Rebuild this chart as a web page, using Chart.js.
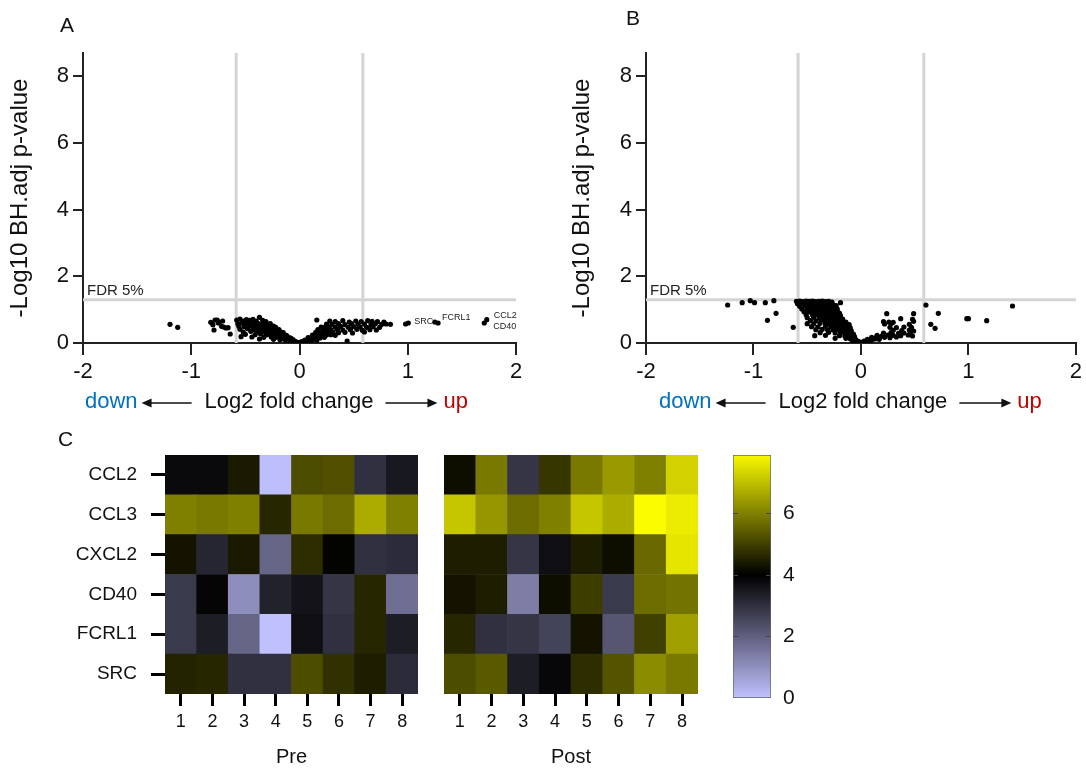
<!DOCTYPE html>
<html>
<head>
<meta charset="utf-8">
<script src="https://cdn.jsdelivr.net/npm/chart.js@4.4.1/dist/chart.umd.min.js"></script>
<style>
  body { margin: 0; background: #fff; width: 1086px; height: 768px; position: relative; overflow: hidden; font-family: 'Liberation Sans', Arial, sans-serif; }
  canvas { position: absolute; }
  .tag { position: absolute; font-size: 21px; line-height: 1; color: #111; z-index: 2; }
</style>
</head>
<body>
<div class="tag" style="left:60px;top:14px">A</div>
<div class="tag" style="left:626px;top:7px">B</div>
<div class="tag" style="left:58px;top:428px">C</div>

<canvas id="volA" style="left:0;top:0" width="545" height="425"></canvas>
<canvas id="volB" style="left:560px;top:0" width="526" height="425"></canvas>
<canvas id="heatPre" style="left:0;top:420px" width="430" height="348"></canvas>
<canvas id="heatPost" style="left:430px;top:420px" width="280" height="348"></canvas>
<canvas id="colorBar" style="left:715px;top:420px" width="105" height="348"></canvas>

<script>
// ---- data ----
// volcano A (Pre): [log2 fold change, -log10 BH adj p]
const volcanoA = [
  [-1.196,0.56],[-1.125,0.47],
  [-0.80,0.55],[-0.78,0.69],[-0.76,0.69],[-0.74,0.62],[-0.79,0.39],[-0.72,0.50],[-0.70,0.48],
  [-0.68,0.45],[-0.66,0.46],[-0.75,0.60],[-0.64,0.27],[-0.82,0.62],[-0.71,0.66],
  [-0.58,0.69],[-0.55,0.72],[-0.52,0.66],[-0.49,0.70],[-0.46,0.68],[-0.43,0.71],[-0.40,0.66],[-0.37,0.77],[-0.34,0.68],[-0.31,0.64],
  [-0.57,0.58],[-0.53,0.60],[-0.50,0.57],[-0.47,0.59],[-0.44,0.56],[-0.41,0.60],[-0.38,0.58],[-0.35,0.57],[-0.32,0.59],[-0.29,0.56],[-0.27,0.58],
  [-0.56,0.50],[-0.51,0.49],[-0.46,0.51],[-0.42,0.48],[-0.39,0.50],[-0.36,0.52],[-0.33,0.49],[-0.30,0.50],[-0.27,0.48],[-0.24,0.51],[-0.22,0.47],
  [-0.55,0.41],[-0.48,0.43],[-0.43,0.40],[-0.40,0.42],[-0.37,0.41],[-0.34,0.43],[-0.31,0.40],[-0.28,0.42],[-0.25,0.41],[-0.22,0.39],[-0.19,0.40],
  [-0.52,0.33],[-0.45,0.35],[-0.39,0.33],[-0.35,0.34],[-0.32,0.32],[-0.29,0.35],[-0.26,0.33],[-0.23,0.34],[-0.20,0.32],[-0.17,0.33],[-0.15,0.31],
  [-0.50,0.26],[-0.41,0.25],[-0.36,0.27],[-0.30,0.25],[-0.27,0.26],[-0.24,0.24],[-0.21,0.26],[-0.18,0.25],[-0.15,0.24],[-0.12,0.23],
  [-0.54,0.19],[-0.44,0.18],[-0.33,0.17],[-0.26,0.18],[-0.22,0.17],[-0.19,0.18],[-0.16,0.17],[-0.13,0.16],[-0.10,0.17],[-0.08,0.15],
  [-0.37,0.12],[-0.24,0.11],[-0.18,0.10],[-0.14,0.11],[-0.11,0.10],[-0.08,0.09],[-0.06,0.10],
  [-0.12,0.05],[-0.09,0.05],[-0.06,0.04],[-0.04,0.05],[-0.02,0.02],[-0.01,0.01],
  [0.16,0.69],[0.28,0.66],[0.33,0.64],[0.40,0.67],[0.46,0.63],[0.52,0.66],[0.57,0.64],[0.63,0.67],[0.67,0.65],[0.72,0.64],[0.78,0.63],
  [0.25,0.57],[0.30,0.56],[0.36,0.58],[0.42,0.55],[0.48,0.58],[0.54,0.56],[0.60,0.57],[0.66,0.55],[0.70,0.58],[0.76,0.56],[0.80,0.57],[0.84,0.56],
  [0.20,0.48],[0.24,0.49],[0.27,0.47],[0.33,0.48],[0.38,0.50],[0.45,0.47],[0.50,0.49],[0.56,0.48],[0.62,0.47],[0.68,0.49],[0.74,0.47],
  [0.17,0.40],[0.22,0.41],[0.26,0.39],[0.29,0.40],[0.35,0.41],[0.40,0.39],[0.47,0.40],[0.53,0.41],[0.58,0.38],[0.65,0.40],[0.71,0.39],
  [0.15,0.32],[0.19,0.33],[0.23,0.31],[0.27,0.32],[0.31,0.33],[0.36,0.31],[0.42,0.32],[0.49,0.30],[0.60,0.33],
  [0.12,0.24],[0.16,0.25],[0.20,0.23],[0.25,0.24],[0.29,0.25],[0.33,0.23],
  [0.08,0.16],[0.11,0.17],[0.15,0.16],[0.19,0.15],[0.23,0.17],
  [0.05,0.09],[0.08,0.10],[0.12,0.09],[0.16,0.08],
  [0.02,0.04],[0.04,0.03],[0.07,0.05],[0.10,0.04],[0.01,0.01],
  [0.44,0.06],[0.98,0.57],[1.25,0.63]
];
// labelled genes in panel A
const geneNamesA = ['SRC', 'FCRL1', 'CCL2', 'CD40'];
const geneFoldA = [1.005, 1.28, 1.73, 1.707];
const genePA = [0.60, 0.60, 0.70, 0.60];

// volcano B (Post)
const volcanoB = [
  [-1.24,1.14],[-1.105,1.21],[-1.03,1.27],[-0.99,1.21],[-0.89,1.21],[-0.81,1.27],[-0.87,0.68],[-0.79,0.89],[-0.63,0.47],
  [-0.60,1.25],[-0.57,1.26],[-0.54,1.24],[-0.51,1.26],[-0.48,1.25],[-0.45,1.26],[-0.42,1.24],[-0.39,1.25],[-0.36,1.26],[-0.33,1.24],[-0.30,1.25],[-0.27,1.23],
  [-0.59,1.18],[-0.56,1.19],[-0.53,1.17],[-0.50,1.18],[-0.47,1.19],[-0.44,1.17],[-0.41,1.18],[-0.38,1.19],[-0.35,1.17],[-0.32,1.18],[-0.29,1.16],[-0.26,1.15],[-0.23,1.12],
  [-0.57,1.10],[-0.52,1.11],[-0.48,1.09],[-0.45,1.10],[-0.42,1.11],[-0.39,1.09],[-0.36,1.10],[-0.33,1.08],[-0.30,1.09],[-0.27,1.07],[-0.24,1.05],[-0.22,1.02],
  [-0.55,1.02],[-0.50,1.01],[-0.46,1.03],[-0.43,1.00],[-0.40,1.02],[-0.37,1.01],[-0.34,1.02],[-0.31,1.00],[-0.28,1.01],[-0.25,0.99],[-0.19,1.21],
  [-0.53,0.94],[-0.48,0.93],[-0.44,0.95],[-0.40,0.93],[-0.37,0.94],[-0.34,0.92],[-0.31,0.94],[-0.28,0.93],[-0.25,0.92],[-0.22,0.94],[-0.20,0.90],
  [-0.51,0.85],[-0.45,0.84],[-0.41,0.86],[-0.37,0.85],[-0.34,0.84],[-0.31,0.86],[-0.28,0.85],[-0.25,0.84],[-0.22,0.85],[-0.19,0.82],
  [-0.50,0.76],[-0.44,0.77],[-0.39,0.75],[-0.35,0.76],[-0.32,0.77],[-0.29,0.75],[-0.26,0.76],[-0.23,0.74],[-0.20,0.76],[-0.17,0.72],
  [-0.47,0.67],[-0.42,0.66],[-0.37,0.68],[-0.33,0.67],[-0.29,0.66],[-0.26,0.68],[-0.23,0.67],[-0.20,0.66],[-0.17,0.65],[-0.14,0.63],
  [-0.50,0.58],[-0.44,0.57],[-0.38,0.59],[-0.33,0.58],[-0.29,0.57],[-0.25,0.59],[-0.22,0.58],[-0.19,0.57],[-0.16,0.58],[-0.13,0.56],[-0.11,0.55],
  [-0.46,0.49],[-0.40,0.48],[-0.33,0.50],[-0.28,0.49],[-0.24,0.48],[-0.21,0.50],[-0.18,0.49],[-0.15,0.48],[-0.12,0.47],[-0.10,0.46],
  [-0.42,0.40],[-0.36,0.41],[-0.31,0.39],[-0.26,0.40],[-0.22,0.41],[-0.18,0.39],[-0.15,0.40],[-0.12,0.38],[-0.09,0.37],
  [-0.38,0.31],[-0.30,0.32],[-0.24,0.30],[-0.19,0.31],[-0.15,0.30],[-0.12,0.31],[-0.09,0.29],[-0.07,0.27],
  [-0.43,0.22],[-0.33,0.23],[-0.20,0.22],[-0.15,0.21],[-0.11,0.22],[-0.08,0.20],[-0.06,0.19],
  [-0.24,0.14],[-0.14,0.14],[-0.10,0.13],[-0.07,0.12],[-0.05,0.11],
  [-0.08,0.07],[-0.05,0.06],[-0.03,0.06],[-0.02,0.04],[-0.01,0.02],
  [0.01,0.02],[0.03,0.03],
  [0.03,0.06],[0.06,0.06],[0.09,0.07],
  [0.06,0.11],[0.10,0.10],[0.13,0.12],[0.17,0.11],
  [0.10,0.17],[0.14,0.16],[0.18,0.18],[0.22,0.17],[0.27,0.16],[0.33,0.18],
  [0.15,0.23],[0.20,0.22],[0.25,0.24],[0.30,0.23],[0.37,0.22],[0.44,0.24],[0.48,0.21],
  [0.21,0.30],[0.28,0.31],[0.35,0.29],[0.40,0.30],[0.46,0.31],
  [0.30,0.38],[0.38,0.37],[0.45,0.39],[0.49,0.36],
  [0.27,0.47],[0.33,0.46],[0.40,0.48],[0.47,0.47],
  [0.22,0.57],[0.28,0.58],[0.30,0.62],[0.45,0.56],
  [0.21,0.64],[0.26,0.63],[0.49,0.65],
  [0.37,0.73],[0.48,0.71],
  [0.24,0.88],[0.49,0.88],
  [0.605,1.14],[0.72,0.89],[0.65,0.56],[0.69,0.44],[0.985,0.73],[1.0,0.73],[1.17,0.67],[1.41,1.11]
];

const fdrLine = 1.3;     // -log10(0.05)
const foldCut = 0.585;   // log2(1.5)
const foldTicks = [-2, -1, 0, 1, 2];

// heatmap C
const genes = ['CCL2', 'CCL3', 'CXCL2', 'CD40', 'FCRL1', 'SRC'];
const samples = ['1', '2', '3', '4', '5', '6', '7', '8'];
const preCCL2  = [3.8, 3.8, 4.4, 0.05, 5.2, 5.25, 3.0, 3.5];
const preCCL3  = [6.0, 5.9, 6.0, 4.6, 5.9, 5.7, 6.7, 6.0];
const preCXCL2 = [4.3, 3.2, 4.4, 1.9, 4.7, 4.05, 3.0, 3.1];
const preCD40  = [2.8, 3.9, 1.05, 3.3, 3.6, 2.9, 4.6, 1.7];
const preFCRL1 = [2.8, 3.4, 1.9, 0.0, 3.7, 3.0, 4.6, 3.4];
const preSRC   = [4.55, 4.6, 3.0, 3.0, 5.2, 4.75, 4.45, 3.1];
const postCCL2  = [4.2, 5.9, 2.9, 4.85, 5.9, 6.4, 6.0, 7.3];
const postCCL3  = [7.1, 6.35, 5.7, 6.0, 7.1, 6.7, 7.95, 7.7];
const postCXCL2 = [4.45, 4.45, 2.9, 3.7, 4.45, 4.2, 5.65, 7.6];
const postCD40  = [4.3, 4.45, 1.4, 4.2, 4.95, 2.8, 5.7, 5.8];
const postFCRL1 = [4.6, 3.0, 2.9, 2.6, 4.3, 2.2, 5.0, 6.5];
const postSRC   = [5.2, 5.4, 3.4, 3.85, 4.7, 5.3, 6.2, 5.9];
const preRows = [preCCL2, preCCL3, preCXCL2, preCD40, preFCRL1, preSRC];
const postRows = [postCCL2, postCCL3, postCXCL2, postCD40, postFCRL1, postSRC];
const colorMax = 7.9;

// ---- setup ----
const fam = "'Liberation Sans', Arial, sans-serif";
Chart.defaults.font.family = fam;
Chart.defaults.color = '#111';
Chart.defaults.animation = false;
Chart.defaults.plugins.legend.display = false;
Chart.defaults.plugins.tooltip.enabled = false;

const xy = arr => arr.map(([x, y]) => ({ x, y }));

// lavender (0) -> black (4) -> yellow (8)
function heatColor(v) {
  if (v <= 4) {
    const s = 1 - v / 4;
    return `rgb(${Math.round(192 * s)},${Math.round(192 * s)},${Math.round(255 * s)})`;
  }
  const t = Math.min(1, (v - 4) / 4);
  return `rgb(${Math.round(255 * t)},${Math.round(255 * t)},0)`;
}

const labelOffset = { SRC: [6, -1], FCRL1: [4, -5], CCL2: [7, -4], CD40: [9, 4] };

function arrow(ctx, x0, x1, y) {
  const dir = Math.sign(x1 - x0);
  ctx.strokeStyle = '#111';
  ctx.fillStyle = '#111';
  ctx.lineWidth = 1.5;
  ctx.beginPath();
  ctx.moveTo(x0, y);
  ctx.lineTo(x1 - dir * 8, y);
  ctx.stroke();
  ctx.beginPath();
  ctx.moveTo(x1, y);
  ctx.lineTo(x1 - dir * 10, y - 4.5);
  ctx.lineTo(x1 - dir * 10, y + 4.5);
  ctx.closePath();
  ctx.fill();
}

const annotPlugin = {
  id: 'annot',
  afterDatasetsDraw(chart, args, o) {
    const { ctx, chartArea: a, scales: { y } } = chart;
    ctx.save();
    // FDR label
    ctx.font = `15px ${fam}`;
    ctx.fillStyle = '#222';
    ctx.textAlign = 'left';
    ctx.textBaseline = 'alphabetic';
    ctx.fillText('FDR 5%', a.left + 4, y.getPixelForValue(fdrLine) - 5);

    // gene names next to their points
    if (o.genes.length) {
      const meta = chart.getDatasetMeta(1);
      ctx.font = `9px ${fam}`;
      ctx.textBaseline = 'middle';
      o.genes.forEach((g, i) => {
        const p = meta.data[i];
        const [dx, dy] = labelOffset[g];
        ctx.fillText(g, p.x + dx, p.y + dy);
      });
    }

    // x title row: down <-- Log2 fold change --> up
    const c = (a.left + a.right) / 2 + o.titleShift;
    const ty = o.titleY;
    const title = 'Log2 fold change';
    ctx.font = `22px ${fam}`;
    ctx.textBaseline = 'middle';
    ctx.textAlign = 'center';
    ctx.fillStyle = '#111';
    ctx.fillText(title, c, ty);
    const w = ctx.measureText(title).width;
    arrow(ctx, c - w / 2 - 13, c - w / 2 - 63, ty + 1);
    arrow(ctx, c + w / 2 + 12, c + w / 2 + 64, ty + 1);
    ctx.textAlign = 'right';
    ctx.fillStyle = '#0070c0';
    ctx.fillText('down', c - w / 2 - 67, ty);
    ctx.textAlign = 'left';
    ctx.fillStyle = '#c00000';
    ctx.fillText('up', c + w / 2 + 70, ty);
    ctx.restore();
  }
};

function guideLines() {
  const grey = { showLine: true, borderColor: '#d4d4d4', borderWidth: 3, pointRadius: 0 };
  return [
    { ...grey, data: [{ x: -2, y: fdrLine }, { x: 2, y: fdrLine }] },
    { ...grey, data: [{ x: -foldCut, y: 0 }, { x: -foldCut, y: 8.7 }] },
    { ...grey, data: [{ x: foldCut, y: 0 }, { x: foldCut, y: 8.7 }] }
  ];
}

function volcano(id, points, genePts, geneNames, o) {
  const dot = { backgroundColor: '#000', pointRadius: 2.6, pointBorderWidth: 0 };
  return new Chart(document.getElementById(id), {
    type: 'scatter',
    data: {
      datasets: [
        { ...dot, data: xy(points) },
        { ...dot, data: xy(genePts) },
        ...guideLines()
      ]
    },
    options: {
      responsive: false,
      layout: { padding: { top: 53, right: o.padRight, left: 0, bottom: 0 } },
      plugins: { annot: { genes: geneNames, titleShift: o.titleShift, titleY: 402 } },
      scales: {
        x: {
          type: 'linear', min: -2, max: 2,
          afterFit(s) { s.height = 82; },
          afterBuildTicks(s) { s.ticks = foldTicks.map(v => ({ value: v })); },
          ticks: { font: { size: 22 }, color: '#111', padding: 4 },
          grid: { drawOnChartArea: false, tickLength: 12, lineWidth: 2, color: '#222' },
          border: { display: true, width: 2, color: '#222' }
        },
        y: {
          min: 0, max: 8.7,
          afterFit(s) { s.width = o.yWidth; },
          ticks: { stepSize: 2, includeBounds: false, font: { size: 22 }, color: '#111', padding: 4 },
          grid: { drawOnChartArea: false, tickLength: 10, lineWidth: 2, color: '#222' },
          border: { display: true, width: 2, color: '#222' },
          title: { display: true, text: '-Log10 BH.adj p-value', font: { size: 24 }, color: '#111', padding: { top: o.titlePad, bottom: 0 } }
        }
      }
    },
    plugins: [annotPlugin]
  });
}

volcano('volA', volcanoA,
  geneFoldA.map((x, i) => [x, genePA[i]]), geneNamesA,
  { padRight: 29, yWidth: 83, titleShift: -10.5, titlePad: 6 });
volcano('volB', volcanoB, [], [],
  { padRight: 4, yWidth: 86, titleShift: 2, titlePad: 8 });

// ---- heatmaps ----
function heatmap(id, rows, title, showRows, pad) {
  const datasets = genes.map((g, r) => ({
    label: g,
    data: samples.map(() => 1),
    backgroundColor: rows[r].map(heatColor),
    borderWidth: 0,
    barPercentage: 1,
    categoryPercentage: 1
  })).reverse();
  return new Chart(document.getElementById(id), {
    type: 'bar',
    data: { labels: samples, datasets },
    options: {
      responsive: false,
      layout: { padding: pad },
      scales: {
        x: {
          stacked: true,
          afterFit(s) { s.height = 74; },
          ticks: { font: { size: 18 }, color: '#111', padding: 5, maxRotation: 0 },
          grid: { offset: false, drawOnChartArea: false, tickLength: 12, lineWidth: 3, color: '#000' },
          border: { display: false },
          title: { display: true, text: title, font: { size: 20, lineHeight: 1.1 }, color: '#111', padding: { top: 0, bottom: 0 } }
        },
        y: {
          display: showRows,
          stacked: true, min: 0, max: genes.length,
          afterFit(s) { s.width = showRows ? 165 : 0; },
          afterBuildTicks(s) { s.ticks = genes.map((g, i) => ({ value: genes.length - 0.5 - i })); },
          ticks: { font: { size: 19 }, color: '#111', padding: 14, autoSkip: false,
                   callback: v => genes[Math.round(genes.length - 0.5 - v)] },
          grid: { drawOnChartArea: false, tickLength: 14, lineWidth: 3, color: '#000' },
          border: { display: false }
        }
      }
    }
  });
}

heatmap('heatPre', preRows, 'Pre', true, { top: 35, right: 12, left: 0, bottom: 0 });
heatmap('heatPost', postRows, 'Post', false, { top: 35, right: 12, left: 14, bottom: 0 });

// ---- colour bar ----
const barTicksPlugin = {
  id: 'barTicks',
  afterDatasetsDraw(chart) {
    const { ctx, chartArea: a, scales: { y } } = chart;
    ctx.save();
    ctx.strokeStyle = '#444';
    ctx.lineWidth = 1;
    y.ticks.forEach(t => {
      if (t.value <= 0) return;
      const py = Math.round(y.getPixelForValue(t.value)) + 0.5;
      ctx.beginPath();
      ctx.moveTo(a.left, py); ctx.lineTo(a.left + 5, py);
      ctx.moveTo(a.right - 5, py); ctx.lineTo(a.right, py);
      ctx.stroke();
    });
    ctx.restore();
  }
};

new Chart(document.getElementById('colorBar'), {
  type: 'bar',
  data: {
    labels: [''],
    datasets: [{
      data: [[0, colorMax]],
      backgroundColor(c) {
        const ch = c.chart;
        if (!ch.chartArea) return '#000';
        const y = ch.scales.y;
        const g = ch.ctx.createLinearGradient(0, y.getPixelForValue(0), 0, y.getPixelForValue(colorMax));
        [0, 1, 2, 3, 4, 5, 6, 7].forEach(v => g.addColorStop(v / colorMax, heatColor(v)));
        g.addColorStop(1, heatColor(colorMax));
        return g;
      },
      borderColor: '#666',
      borderWidth: 1,
      borderSkipped: false,
      barPercentage: 1,
      categoryPercentage: 1
    }]
  },
  options: {
    responsive: false,
    layout: { padding: { top: 35, left: 18, right: 0, bottom: 70 } },
    scales: {
      x: { display: false },
      y: {
        position: 'right', min: 0, max: colorMax,
        afterFit(s) { s.width = 49; },
        ticks: { stepSize: 2, includeBounds: false, font: { size: 21 }, color: '#111', padding: 12 },
        grid: { display: false, drawTicks: false },
        border: { display: false }
      }
    }
  },
  plugins: [barTicksPlugin]
});
</script>
</body>
</html>
